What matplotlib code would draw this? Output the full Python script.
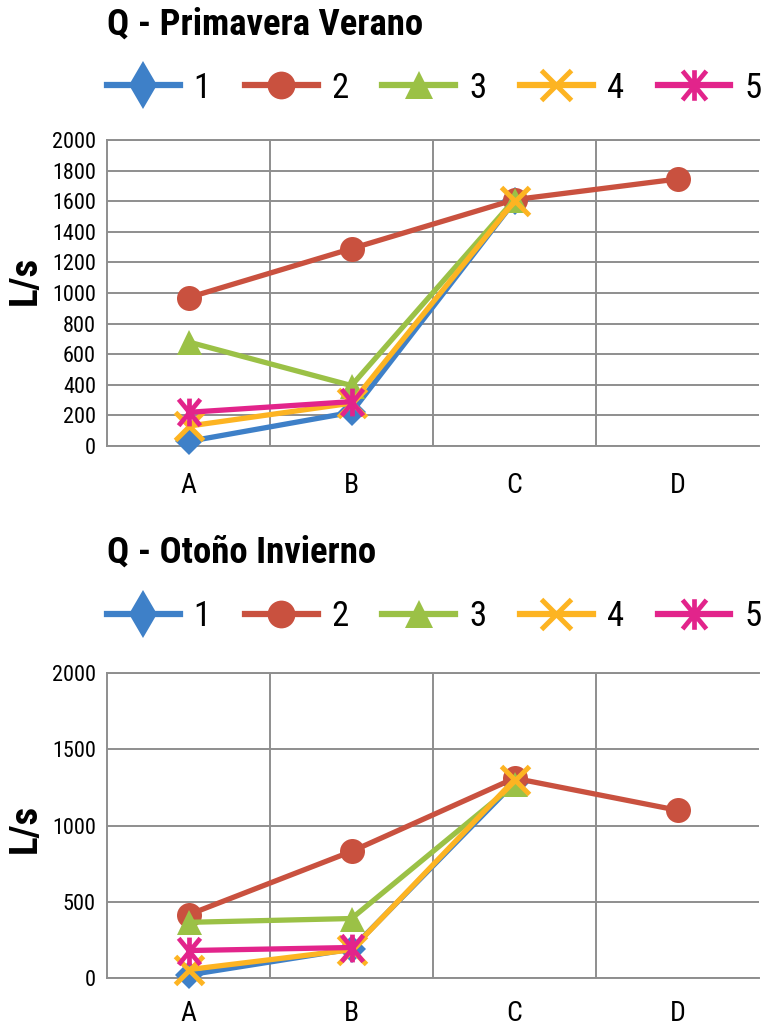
import matplotlib
matplotlib.use("Agg")
import matplotlib.pyplot as plt
import numpy as np
from matplotlib.path import Path
from matplotlib.lines import Line2D
from matplotlib import font_manager as fm

# ---- font choice: prefer a condensed sans
_names = {f.name for f in fm.fontManager.ttflist}
_cond = None
for cand in ['Roboto Condensed', 'Liberation Sans Narrow', 'Open Sans Condensed',
             'Arial Narrow', 'Noto Sans Condensed', 'DejaVu Sans Condensed']:
    if cand in _names:
        _cond = cand
        break
if _cond is not None:
    FONT = _cond
    FS = dict(title=26.5, legend=25, ytick=16, xtick=20, ylabel=28)
else:
    FONT = 'Roboto' if 'Roboto' in _names else 'DejaVu Sans'
    FS = dict(title=21, legend=22, ytick=13.5, xtick=18, ylabel=26)
plt.rcParams['font.family'] = [FONT, 'DejaVu Sans']

categories = ['A', 'B', 'C', 'D']
series_names = ['1', '2', '3', '4', '5']

# Q - Primavera Verano
pv_1 = [30, 220, 1600, None]
pv_2 = [970, 1290, 1610, 1745]
pv_3 = [680, 395, 1610, None]
pv_4 = [130, 280, 1600, None]
pv_5 = [220, 290, None, None]

# Q - Otoño Invierno
oi_1 = [20, 190, 1280, None]
oi_2 = [415, 830, 1310, 1100]
oi_3 = [365, 390, 1270, None]
oi_4 = [55, 185, 1300, None]
oi_5 = [180, 200, None, None]

colors = ['#3E80C8', '#C9513F', '#9BC146', '#FDB422', '#E2248B']

# asterisk: vertical spoke + X
ast_verts = [(0, -1), (0, 1), (-0.78, -0.95), (0.78, 0.95), (-0.78, 0.95), (0.78, -0.95)]
ast_codes = [Path.MOVETO, Path.LINETO] * 3
asterisk = Path(ast_verts, ast_codes)

markers = ['D', 'o', '^', 'x', asterisk]
msizes = [14, 18, 18, 20, 20]
mew = [0, 0, 0, 3.6, 3.4]

fig = plt.figure(figsize=(7.61, 10.30), dpi=100)
W, H = 761, 1030

def ax_rect(l, t, r, b):
    return [l / W, 1 - b / H, (r - l) / W, (b - t) / H]

def draw(ax, data, yticks, xpad, ylab_y):
    x = np.arange(len(categories))
    for i, vals in enumerate(data):
        y = np.array([np.nan if v is None else v for v in vals], dtype=float)
        c = colors[i]
        ax.plot(x, y, color=c, lw=3.8, marker=markers[i], markersize=msizes[i],
                markerfacecolor=c, markeredgecolor=c, markeredgewidth=mew[i],
                zorder=3 + i, solid_capstyle='butt', clip_on=False)
    ax.set_xlim(-0.5, len(categories) - 0.5)
    ax.set_ylim(0, 2000)
    ax.set_yticks(yticks)
    ax.set_yticklabels([str(t) for t in yticks], fontsize=FS['ytick'])
    ax.set_xticks(x)
    ax.set_xticklabels(categories, fontsize=FS['xtick'])
    ax.set_xticks(np.arange(0.5, len(categories) - 0.5, 1), minor=True)
    ax.grid(True, which='major', axis='y', color='#8E8E8E', lw=1.4)
    ax.grid(True, which='minor', axis='x', color='#8E8E8E', lw=1.4)
    ax.tick_params(axis='both', which='both', length=0)
    ax.tick_params(axis='y', pad=8)
    ax.tick_params(axis='x', pad=xpad)
    for s in ['left', 'bottom', 'top']:
        ax.spines[s].set_color('#8E8E8E')
        ax.spines[s].set_linewidth(1.4)
    ax.spines['right'].set_visible(False)
    ax.set_axisbelow(True)
    ax.set_ylabel('L/s', fontsize=FS['ylabel'], fontweight='bold', va='center')
    ax.yaxis.set_label_coords(-0.125, ylab_y)

ax1 = fig.add_axes(ax_rect(107, 140, 759, 446))
draw(ax1, [pv_1, pv_2, pv_3, pv_4, pv_5],
     [0, 200, 400, 600, 800, 1000, 1200, 1400, 1600, 1800, 2000], 19, 0.54)
ax2 = fig.add_axes(ax_rect(107, 673, 759, 978))
draw(ax2, [oi_1, oi_2, oi_3, oi_4, oi_5], [0, 500, 1000, 1500, 2000], 16, 0.49)

fig.text(107 / W, 1 - 25 / H, 'Q - Primavera Verano', fontsize=FS['title'], fontweight='bold',
         ha='left', va='center')
fig.text(107 / W, 1 - 553 / H, 'Q - Otoño Invierno', fontsize=FS['title'], fontweight='bold',
         ha='left', va='center')

leg_markers = ['d', 'o', '^', 'x', asterisk]
leg_sizes = [24, 20, 20, 22, 22]
handles = [Line2D([0], [0], color=colors[i], lw=4.5, marker=leg_markers[i],
                  markersize=leg_sizes[i], markerfacecolor=colors[i],
                  markeredgecolor=colors[i], markeredgewidth=mew[i])
           for i in range(5)]

for ycen in (88, 617):
    fig.legend(handles, series_names, loc='center left',
               bbox_to_anchor=(107 / W, 1 - ycen / H), ncol=5, frameon=False,
               fontsize=FS['legend'], handlelength=2.1, handletextpad=0.4,
               columnspacing=0.97, borderaxespad=0, borderpad=0)

fig.savefig('out.png', dpi=100)
